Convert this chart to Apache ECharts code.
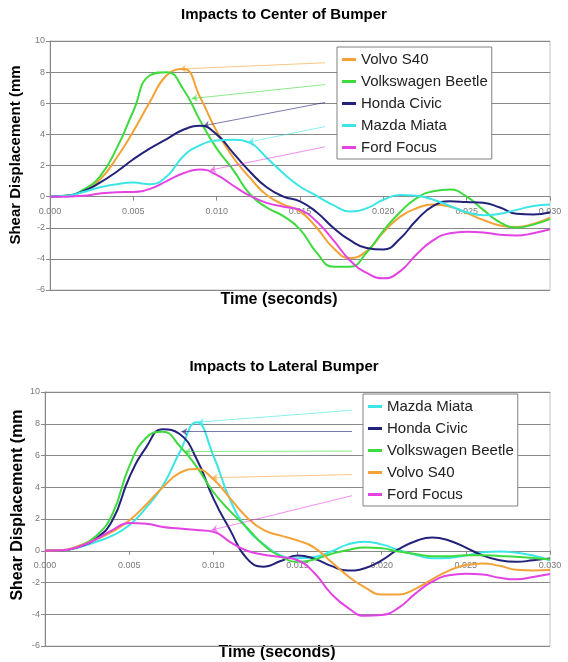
<!DOCTYPE html>
<html><head><meta charset="utf-8">
<script src="https://cdn.jsdelivr.net/npm/echarts/dist/echarts.min.js"></script>
<style>html,body{margin:0;padding:0;background:#fff}#c{width:568px;height:662px}</style>
</head><body><div id="c"></div>
<script>
const FONT = '"Liberation Sans", Arial, sans-serif';
const time = [0,0.001,0.002,0.003,0.004,0.005,0.006,0.007,0.008,0.009,0.010,0.011,0.012,0.013,0.014,0.015,0.016,0.017,0.018,0.019,0.020,0.021,0.022,0.023,0.024,0.025,0.026,0.027,0.028,0.029,0.030];

// Impacts to Center of Bumper
const centerVolvo  = [0,0.05,0.35,1.1,2.5,4.2,6.1,7.8,8.2,6.4,4.2,2.5,1.2,0.1,-0.5,-0.95,-2.0,-3.3,-3.95,-3.5,-2.3,-1.3,-0.75,-0.5,-0.65,-1.05,-1.5,-1.85,-1.95,-1.75,-1.35];
const centerBeetle = [0,0.05,0.45,1.3,3.1,5.5,7.8,8.0,6.9,4.9,3.1,1.7,0.15,-0.7,-1.25,-2.1,-3.6,-4.5,-4.5,-3.6,-2.2,-1.0,-0.1,0.35,0.45,0.0,-0.85,-1.65,-1.98,-1.8,-1.45];
const centerCivic  = [0,0.05,0.35,0.9,1.6,2.4,3.1,3.7,4.3,4.55,4.0,2.8,1.6,0.6,0.0,-0.3,-1.0,-2.0,-2.8,-3.3,-3.4,-2.7,-1.5,-0.6,-0.3,-0.35,-0.4,-0.7,-1.1,-1.15,-1.0];
const centerMiata  = [0,0.05,0.3,0.6,0.8,0.9,0.8,1.3,2.6,3.3,3.6,3.65,3.45,2.5,1.5,0.65,0.05,-0.55,-0.95,-0.75,-0.2,0.1,0.05,-0.2,-0.6,-1.0,-1.2,-1.1,-0.85,-0.6,-0.5];
const centerFocus  = [0,0,0.05,0.2,0.28,0.3,0.5,1.0,1.5,1.75,1.4,0.7,0.05,-0.4,-0.65,-0.85,-1.6,-2.8,-4.1,-4.9,-5.25,-4.8,-3.7,-2.8,-2.35,-2.25,-2.3,-2.45,-2.5,-2.35,-2.1];

// Impacts to Lateral Bumper
const latMiata  = [0,0.02,0.2,0.55,0.95,1.6,2.7,4.1,6.2,8.1,6.0,3.2,1.4,0.4,-0.3,-0.48,-0.4,-0.05,0.4,0.57,0.4,0.05,-0.25,-0.48,-0.45,-0.3,-0.1,-0.05,-0.12,-0.3,-0.6];
const latCivic  = [0,0.02,0.25,0.75,1.9,4.6,6.5,7.65,7.35,5.8,3.3,1.3,-0.5,-1.0,-0.65,-0.3,-0.5,-0.95,-1.25,-1.1,-0.6,0.1,0.6,0.84,0.65,0.2,-0.3,-0.6,-0.7,-0.6,-0.48];
const latBeetle = [0,0.03,0.3,0.9,2.3,5.3,7.1,7.5,6.6,5.3,3.7,2.5,1.45,0.35,-0.35,-0.7,-0.55,-0.2,0.05,0.2,0.15,-0.05,-0.2,-0.35,-0.35,-0.28,-0.28,-0.33,-0.38,-0.45,-0.55];
const latVolvo  = [0,0.03,0.3,0.7,1.2,1.9,2.9,4.0,4.9,5.15,4.5,3.3,2.1,1.3,0.95,0.65,0.2,-0.7,-1.6,-2.3,-2.75,-2.75,-2.4,-1.8,-1.25,-0.9,-0.8,-0.95,-1.2,-1.25,-1.22];
const latFocus  = [0,0.03,0.25,0.7,1.3,1.75,1.7,1.5,1.4,1.3,1.2,0.55,0.0,-0.25,-0.4,-0.6,-1.4,-2.7,-3.6,-4.1,-4.05,-3.6,-2.7,-1.95,-1.55,-1.45,-1.5,-1.7,-1.8,-1.65,-1.47];

const centerLegendOrder  = ['Volvo S40','Volkswagen Beetle','Honda Civic','Mazda Miata','Ford Focus'];
const lateralLegendOrder = ['Mazda Miata','Honda Civic','Volkswagen Beetle','Volvo S40','Ford Focus'];

// callouts: [curveTime, curveValue, legendTime, legendValue]
const centerCallouts = {
  'Volvo S40':[0.0078,8.2,0.0165,8.6], 'Volkswagen Beetle':[0.0085,6.3,0.0165,7.2],
  'Honda Civic':[0.0092,4.55,0.0165,6.05], 'Mazda Miata':[0.0119,3.5,0.0165,4.5],
  'Ford Focus':[0.0096,1.7,0.0165,3.2]
};
const lateralCallouts = {
  'Mazda Miata':[0.0091,8.1,0.01824,8.85], 'Honda Civic':[0.0081,7.5,0.01824,7.52],
  'Volkswagen Beetle':[0.0083,6.25,0.01824,6.28], 'Volvo S40':[0.0099,4.6,0.01824,4.8],
  'Ford Focus':[0.0099,1.3,0.01824,3.47]
};

const yMin = -6, yMax = 10, yStep = 2;
const xMin = 0, xMax = 0.03, xStep = 0.005;

const colors = {
  'Volvo S40':'#F3A237', 'Volkswagen Beetle':'#3EDB3E', 'Honda Civic':'#22227A',
  'Mazda Miata':'#3CE6E6', 'Ford Focus':'#E443E4'
};

const centerData  = {'Volvo S40':centerVolvo,'Volkswagen Beetle':centerBeetle,'Honda Civic':centerCivic,'Mazda Miata':centerMiata,'Ford Focus':centerFocus};
const lateralData = {'Volvo S40':latVolvo,'Volkswagen Beetle':latBeetle,'Honda Civic':latCivic,'Mazda Miata':latMiata,'Ford Focus':latFocus};

const grids = [
  {left:50, top:41, width:500, height:249},
  {left:45, top:392, width:505, height:254}
];

function makeSeries(name, values, idx, c) {
  const col = colors[name];
  return {
    type:'line', name, xAxisIndex:idx, yAxisIndex:idx,
    data: time.map((t,i)=>[t, values[i]]),
    smooth:0.5, showSymbol:false, symbol:'none',
    lineStyle:{width:2, color:col}, itemStyle:{color:col},
    emphasis:{disabled:true}, animation:false,
    markLine:{
      silent:true, animation:false, symbol:['none','arrow'], symbolSize:6,
      lineStyle:{color:col, width:1, type:'solid', opacity:0.6},
      label:{show:false}, emphasis:{disabled:true},
      data:[[{coord:[c[2],c[3]]},{coord:[c[0],c[1]]}]]
    }
  };
}

const series = [];
centerLegendOrder.forEach(n=>series.push(makeSeries(n, centerData[n], 0, centerCallouts[n])));
lateralLegendOrder.forEach(n=>series.push(makeSeries(n, lateralData[n], 1, lateralCallouts[n])));

function xAxisCfg(idx){
  // place the axis on the zero line (Excel style: axis crosses at 0)
  const zeroOffset = -grids[idx].height * (0 - yMin) / (yMax - yMin);
  return {type:'value', gridIndex:idx, min:xMin, max:xMax, interval:xStep, position:'bottom',
    offset: zeroOffset,
    axisLine:{show:true, onZero:false, lineStyle:{color:'#888', width:1}},
    axisTick:{show:true, length:4, lineStyle:{color:'#888'}},
    axisLabel:{fontSize:9, color:'#7a7a7a', margin:10, fontFamily:FONT, formatter:v=>v.toFixed(3)},
    splitLine:{show:false}};
}
function yAxisCfg(idx){
  return {type:'value', gridIndex:idx, min:yMin, max:yMax, interval:yStep,
    axisLine:{show:true, lineStyle:{color:'#888', width:1}},
    axisTick:{show:true, length:4, lineStyle:{color:'#888'}},
    axisLabel:{fontSize:9, color:'#7a7a7a', margin:5, fontFamily:FONT},
    splitLine:{show:true, lineStyle:{color:'#888', width:1.2}}};
}
function legendCfg(order, left, top){
  return {orient:'vertical', left, top, data:order, icon:'rect', itemWidth:14, itemHeight:3,
    itemGap:7, padding:[5,4,4,5], backgroundColor:'#fff', borderColor:'#808080', borderWidth:1,
    selectedMode:false, z:10, textStyle:{fontSize:15, color:'#222', fontFamily:FONT}};
}

const chart = echarts.init(document.getElementById('c'), null, {renderer:'canvas'});
chart.setOption({
  backgroundColor:'#fff',
  animation:false,
  title:[
    {text:'Impacts to Center of Bumper', left:'center', top:7, padding:0,
     textStyle:{fontSize:15, fontWeight:'bold', color:'#000', fontFamily:FONT}},
    {text:'Impacts to Lateral Bumper', left:'center', top:359, padding:0,
     textStyle:{fontSize:15, fontWeight:'bold', color:'#000', fontFamily:FONT}}
  ],
  grid: grids.map(g=>Object.assign({show:true, borderColor:'#c4c4c4', borderWidth:1}, g)),
  xAxis:[xAxisCfg(0), xAxisCfg(1)],
  yAxis:[yAxisCfg(0), yAxisCfg(1)],
  legend:[legendCfg(centerLegendOrder,337,47), legendCfg(lateralLegendOrder,363,394)],
  graphic:[
    {type:'text', x:279, y:300, style:{text:'Time (seconds)', font:'bold 16px '+FONT, fill:'#000', align:'center', verticalAlign:'middle'}},
    {type:'text', x:277, y:653, style:{text:'Time (seconds)', font:'bold 16px '+FONT, fill:'#000', align:'center', verticalAlign:'middle'}},
    {type:'text', x:16, y:155, rotation:Math.PI/2, style:{text:'Shear Displacement (mm', font:'bold 15px '+FONT, fill:'#000', align:'center', verticalAlign:'middle'}},
    {type:'text', x:18, y:505, rotation:Math.PI/2, style:{text:'Shear Displacement (mm', font:'bold 16px '+FONT, fill:'#000', align:'center', verticalAlign:'middle'}}
  ],
  series
});
</script></body></html>
